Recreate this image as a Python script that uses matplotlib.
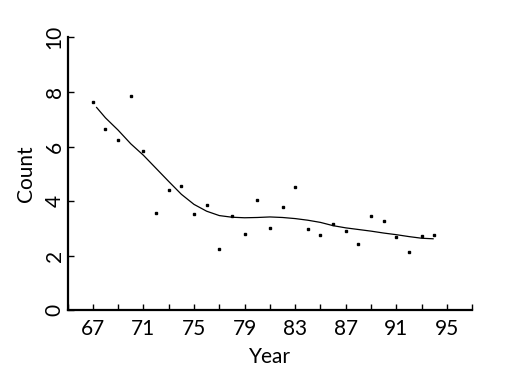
import matplotlib
matplotlib.use("Agg")
import matplotlib.pyplot as plt
from matplotlib.ticker import MultipleLocator

# observed counts per year
years = [67, 68, 69, 70, 71, 72, 73, 74, 75, 76, 77, 78, 79, 80,
         81, 82, 83, 84, 85, 86, 87, 88, 89, 90, 91, 92, 93, 94]
counts = [7.62, 6.65, 6.25, 7.85, 5.83, 3.55, 4.40, 4.56, 3.51, 3.87,
          2.25, 3.45, 2.80, 4.04, 3.00, 3.78, 4.51, 2.97, 2.76, 3.16,
          2.92, 2.44, 3.45, 3.28, 2.68, 2.13, 2.73, 2.76]

# smoothed curve
smooth_years = [67.3, 68, 69, 70, 71, 72, 73, 74, 75, 76, 77, 78, 79, 80,
                81, 82, 83, 84, 85, 86, 87, 88, 89, 90, 91, 92, 93, 93.9]
smooth_counts = [7.43, 7.05, 6.60, 6.10, 5.68, 5.20, 4.72, 4.25, 3.88, 3.63,
                 3.47, 3.41, 3.39, 3.40, 3.42, 3.40, 3.36, 3.30, 3.22, 3.10,
                 3.02, 2.96, 2.90, 2.83, 2.77, 2.70, 2.64, 2.62]

plt.rcParams['font.family'] = ['Lato', 'DejaVu Sans']

fig = plt.figure(figsize=(5.25, 3.75), dpi=100)
ax = fig.add_axes([0.1286, 0.1725, 0.771, 0.728])

ax.plot(years, counts, linestyle='none', marker='s', markersize=1.6,
        color='black')
ax.plot(smooth_years, smooth_counts, color='black', linewidth=0.9)

ax.set_xlim(65, 97)
ax.set_ylim(0, 10)
ax.xaxis.set_major_locator(MultipleLocator(4, offset=3))
ax.xaxis.set_minor_locator(MultipleLocator(2, offset=1))
ax.yaxis.set_major_locator(MultipleLocator(2))

for s in ['top', 'right']:
    ax.spines[s].set_visible(False)
for s in ['left', 'bottom']:
    ax.spines[s].set_linewidth(1.6)

ax.tick_params(axis='both', which='both', direction='in', length=4.5,
               width=1.0, labelsize=15)
ax.tick_params(axis='x', pad=6)
ax.tick_params(axis='y', pad=2)
for lab in ax.get_yticklabels():
    lab.set_rotation(90)
    lab.set_va('center')

ax.set_xlabel("Year", fontsize=15, labelpad=6)
ax.set_ylabel("Count", fontsize=15, labelpad=6)

plt.savefig("out.png", dpi=100)
